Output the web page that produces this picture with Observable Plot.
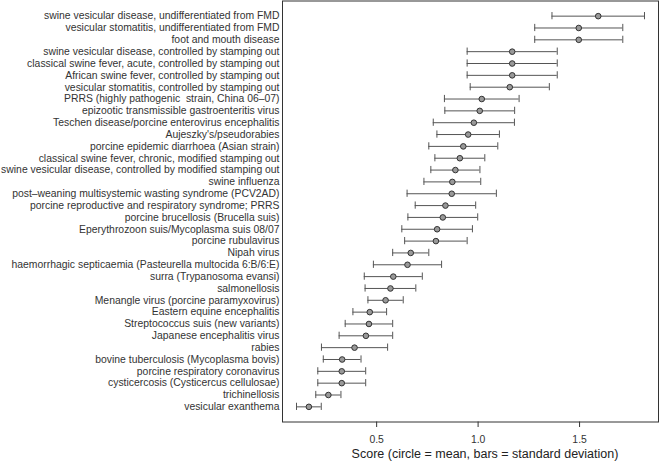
<!DOCTYPE html>
<html>
<head>
<meta charset="utf-8">
<script src="https://cdn.jsdelivr.net/npm/d3@7"></script>
<script src="https://cdn.jsdelivr.net/npm/@observablehq/plot@0.6"></script>
<style>
  html, body { margin: 0; padding: 0; background: white; }
  #title { width: 659px; box-sizing: border-box; padding-left: 311px; text-align: center;
           font-family: "Liberation Sans", Arial, sans-serif; font-size: 12.5px; line-height: 16px; color: #222; }
</style>
</head>
<body>
<div id="chart"></div>
<div id="title"></div>
<script>
const diseases = [
  "swine vesicular disease, undifferentiated from FMD",
  "vesicular stomatitis, undifferentiated from FMD",
  "foot and mouth disease",
  "swine vesicular disease, controlled by stamping out",
  "classical swine fever, acute, controlled by stamping out",
  "African swine fever, controlled by stamping out",
  "vesicular stomatitis, controlled by stamping out",
  "PRRS (highly pathogenic  strain, China 06–07)",
  "epizootic transmissible gastroenteritis virus",
  "Teschen disease/porcine enterovirus encephalitis",
  "Aujeszky's/pseudorabies",
  "porcine epidemic diarrhoea (Asian strain)",
  "classical swine fever, chronic, modified stamping out",
  "swine vesicular disease, controlled by modified stamping out",
  "swine influenza",
  "post–weaning multisystemic wasting syndrome (PCV2AD)",
  "porcine reproductive and respiratory syndrome; PRRS",
  "porcine brucellosis (Brucella suis)",
  "Eperythrozoon suis/Mycoplasma suis 08/07",
  "porcine rubulavirus",
  "Nipah virus",
  "haemorrhagic septicaemia (Pasteurella multocida 6:B/6:E)",
  "surra (Trypanosoma evansi)",
  "salmonellosis",
  "Menangle virus (porcine paramyxovirus)",
  "Eastern equine encephalitis",
  "Streptococcus suis (new variants)",
  "Japanese encephalitis virus",
  "rabies",
  "bovine tuberculosis (Mycoplasma bovis)",
  "porcine respiratory coronavirus",
  "cysticercosis (Cysticercus cellulosae)",
  "trichinellosis",
  "vesicular exanthema"
];
const means = [
  1.592, 1.496, 1.496, 1.168, 1.168, 1.168, 1.156, 1.018, 1.008, 0.979,
  0.951, 0.927, 0.910, 0.888, 0.873, 0.870, 0.839, 0.826, 0.798, 0.792,
  0.668, 0.652, 0.582, 0.568, 0.544, 0.466, 0.462, 0.447, 0.391, 0.330,
  0.328, 0.328, 0.262, 0.166
];
const sds = [
  0.228, 0.217, 0.217, 0.222, 0.222, 0.222, 0.195, 0.184, 0.172, 0.200,
  0.154, 0.170, 0.123, 0.121, 0.140, 0.220, 0.149, 0.172, 0.174, 0.154,
  0.089, 0.168, 0.143, 0.125, 0.087, 0.083, 0.117, 0.132, 0.163, 0.093,
  0.118, 0.118, 0.062, 0.061
];
const xTicks = [0.5, 1.0, 1.5];
const xLabel = "Score (circle = mean, bars = standard deviation)";

const rows = diseases.map((name, i) => ({
  name, mean: means[i], lo: means[i] - sds[i], hi: means[i] + sds[i]
}));
const ends = rows.flatMap(d => [{name: d.name, v: d.lo}, {name: d.name, v: d.hi}]);

const chart = Plot.plot({
  width: 659,
  height: 446,
  marginLeft: 282,
  marginRight: 1,
  marginTop: 0.5,
  marginBottom: 24.5,
  style: {fontFamily: "'Liberation Sans', Arial, sans-serif", fontSize: "10.4px", color: "#333", background: "white"},
  x: {domain: [0.036, 1.889], ticks: xTicks, tickFormat: d3.format(".1f"), tickSize: 5.5, tickPadding: 8, label: null},
  y: {type: "band", domain: diseases, paddingInner: 0.39, paddingOuter: 0.975, round: false, tickSize: 0, tickPadding: 3, label: null},
  marks: [
    Plot.frame({stroke: "#333", strokeWidth: 1}),
    Plot.ruleY(rows, {y: "name", x1: "lo", x2: "hi", stroke: "#555", strokeWidth: 1}),
    Plot.tickX(ends, {x: "v", y: "name", stroke: "#555", strokeWidth: 1}),
    Plot.dot(rows, {x: "mean", y: "name", r: 2.8, fill: "#999", stroke: "#333", strokeWidth: 1})
  ]
});
document.getElementById("chart").appendChild(chart);
document.getElementById("title").textContent = xLabel;
</script>
</body>
</html>
